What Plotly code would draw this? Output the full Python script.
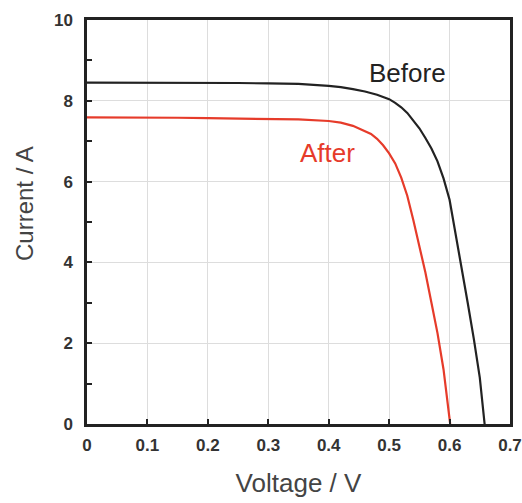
import plotly.graph_objects as go

# Before treatment I-V curve
before_v = [0, 0.05, 0.1, 0.15, 0.2, 0.25, 0.3, 0.35, 0.4, 0.42, 0.44, 0.46, 0.48, 0.49, 0.5,
            0.51, 0.52, 0.53, 0.54, 0.55, 0.56, 0.57, 0.58, 0.59, 0.6, 0.61, 0.62, 0.63,
            0.64, 0.65, 0.658]
before_i = [8.45, 8.45, 8.45, 8.45, 8.44, 8.44, 8.43, 8.42, 8.37, 8.34, 8.29, 8.23, 8.15, 8.10, 8.04,
            7.95, 7.84, 7.70, 7.52, 7.32, 7.08, 6.82, 6.50, 6.08, 5.55, 4.72, 3.88, 3.00,
            2.12, 1.15, 0.0]

# After treatment I-V curve
after_v = [0, 0.05, 0.1, 0.15, 0.2, 0.25, 0.3, 0.35, 0.4, 0.42, 0.44, 0.46, 0.47, 0.48, 0.49,
           0.5, 0.51, 0.52, 0.53, 0.54, 0.55, 0.56, 0.57, 0.58, 0.59, 0.601]
after_i = [7.59, 7.59, 7.58, 7.58, 7.57, 7.56, 7.56, 7.54, 7.50, 7.46, 7.38, 7.26, 7.18, 7.06, 6.90,
           6.70, 6.45, 6.10, 5.65, 5.05, 4.40, 3.75, 3.00, 2.25, 1.35, 0.0]

x_ticks = [0, 0.1, 0.2, 0.3, 0.4, 0.5, 0.6, 0.7]
x_labels = ["0", "0.1", "0.2", "0.3", "0.4", "0.5", "0.6", "0.7"]
y_ticks = [0, 2, 4, 6, 8, 10]

BLACK = "#222222"
RED = "#e63b2a"
FONT = "Liberation Sans, Arial, sans-serif"

fig = go.Figure()
fig.add_trace(go.Scatter(x=before_v, y=before_i, mode="lines", name="Before",
                         line=dict(color=BLACK, width=2.2)))
fig.add_trace(go.Scatter(x=after_v, y=after_i, mode="lines", name="After",
                         line=dict(color=RED, width=2.2)))

fig.add_annotation(x=0.531, y=8.68, text="Before", showarrow=False,
                   font=dict(family=FONT, size=26, color=BLACK))
fig.add_annotation(x=0.398, y=6.71, text="After", showarrow=False,
                   font=dict(family=FONT, size=26, color=RED))
# y-axis title placed as rotated text
fig.add_annotation(xref="paper", yref="paper", x=-0.149, y=0.547, text="Current / A",
                   textangle=-90, showarrow=False, xanchor="center", yanchor="middle",
                   font=dict(family=FONT, size=24, color="#444444"))

fig.update_layout(
    width=522, height=503,
    margin=dict(l=87, r=12, t=20, b=79),
    paper_bgcolor="white", plot_bgcolor="white",
    showlegend=False,
    font=dict(family=FONT),
    xaxis=dict(
        range=[0, 0.7], tickvals=x_ticks, ticktext=x_labels,
        automargin=False,
        showgrid=True, gridcolor="#dddddd", gridwidth=1,
        showline=True, linecolor=BLACK, linewidth=2.5, mirror=True,
        ticks="inside", ticklen=5, tickwidth=2, tickcolor=BLACK,
        ticklabelstandoff=4,
        tickfont=dict(family=FONT, size=17, color="#333333", weight="bold"),
        title=dict(text="Voltage / V", font=dict(family=FONT, size=26, color="#444444"), standoff=20),
        zeroline=False,
    ),
    yaxis=dict(
        range=[0, 10], tickvals=y_ticks,
        automargin=False,
        showgrid=True, gridcolor="#dddddd", gridwidth=1,
        showline=True, linecolor=BLACK, linewidth=2.5, mirror=True,
        ticks="inside", ticklen=5, tickwidth=2, tickcolor=BLACK,
        ticklabelstandoff=8,
        minor=dict(dtick=1, ticks="inside", ticklen=5, tickwidth=2, tickcolor=BLACK, showgrid=False),
        tickfont=dict(family=FONT, size=17, color="#333333", weight="bold"),
        zeroline=False,
    ),
)

fig.write_html("out.html")
